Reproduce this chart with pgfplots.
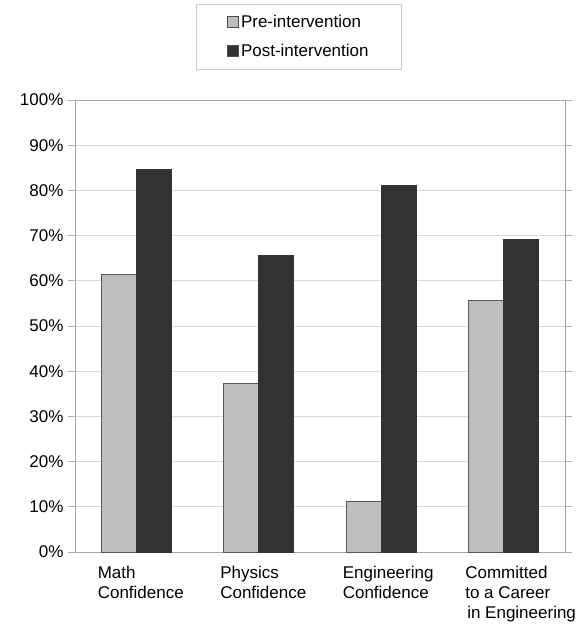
\documentclass[border=0pt]{standalone}
\usepackage{pgfplots}
\pgfplotsset{compat=1.18}
\usepackage{fontspec}
\setmainfont{Liberation Sans}
\definecolor{preC}{HTML}{BEBEBE}
\definecolor{postC}{HTML}{323232}
\begin{document}
\begin{tikzpicture}[x=1pt,y=1pt]
\useasboundingbox (-75,-74) rectangle (503,552);
\begin{axis}[
  at={(0,0)}, anchor=south west,
  scale only axis, width=490pt, height=452pt,
  xmin=-0.5, xmax=3.5, ymin=0, ymax=100,
  ybar=0pt, bar width=35pt,
  font=\fontsize{17}{20}\selectfont,
  /pgf/number format/assume math mode=true,
  ytick={0,10,...,100},
  yticklabel={\pgfmathprintnumber{\tick}\%},
  ymajorgrids, major grid style={gray!30, line width=0.8pt},
  axis line style={gray!70, line width=0.8pt},
  ytick style={gray!60, line width=0.8pt},
  tick align=outside, major tick length=7pt,
  yticklabel style={xshift=-1pt},
  xtick={0,1,2,3},
  x tick style={draw=none},
  xticklabels={{Math\\Confidence},{Physics\\Confidence},{Engineering\\Confidence},{Committed\\to a Career\\\hspace{2pt}in Engineering}},
  xticklabel style={align=left, anchor=north west, xshift=-42pt, yshift=-4pt, text depth=0pt},
  legend style={at={(0.457,1.2125)}, anchor=north, draw=gray!40, line width=0.8pt,
     inner xsep=31pt, inner ysep=9pt, row sep=11pt, font=\fontsize{17}{20}\selectfont},
  legend cell align=left,
  legend image code/.code={\draw[#1, draw=black!70, line width=0.8pt] (0pt,-5.5pt) rectangle (11pt,5.5pt);},
]
\addplot[fill=preC, draw=black!65, line width=0.8pt] coordinates {(0,61.5) (1,37.2) (2,11.3) (3,55.6)};
\addplot[fill=postC, draw=black!80, line width=0.8pt] coordinates {(0,84.7) (1,65.6) (2,81.0) (3,69.2)};
\legend{Pre-intervention, Post-intervention}
\end{axis}
\end{tikzpicture}
\end{document}
